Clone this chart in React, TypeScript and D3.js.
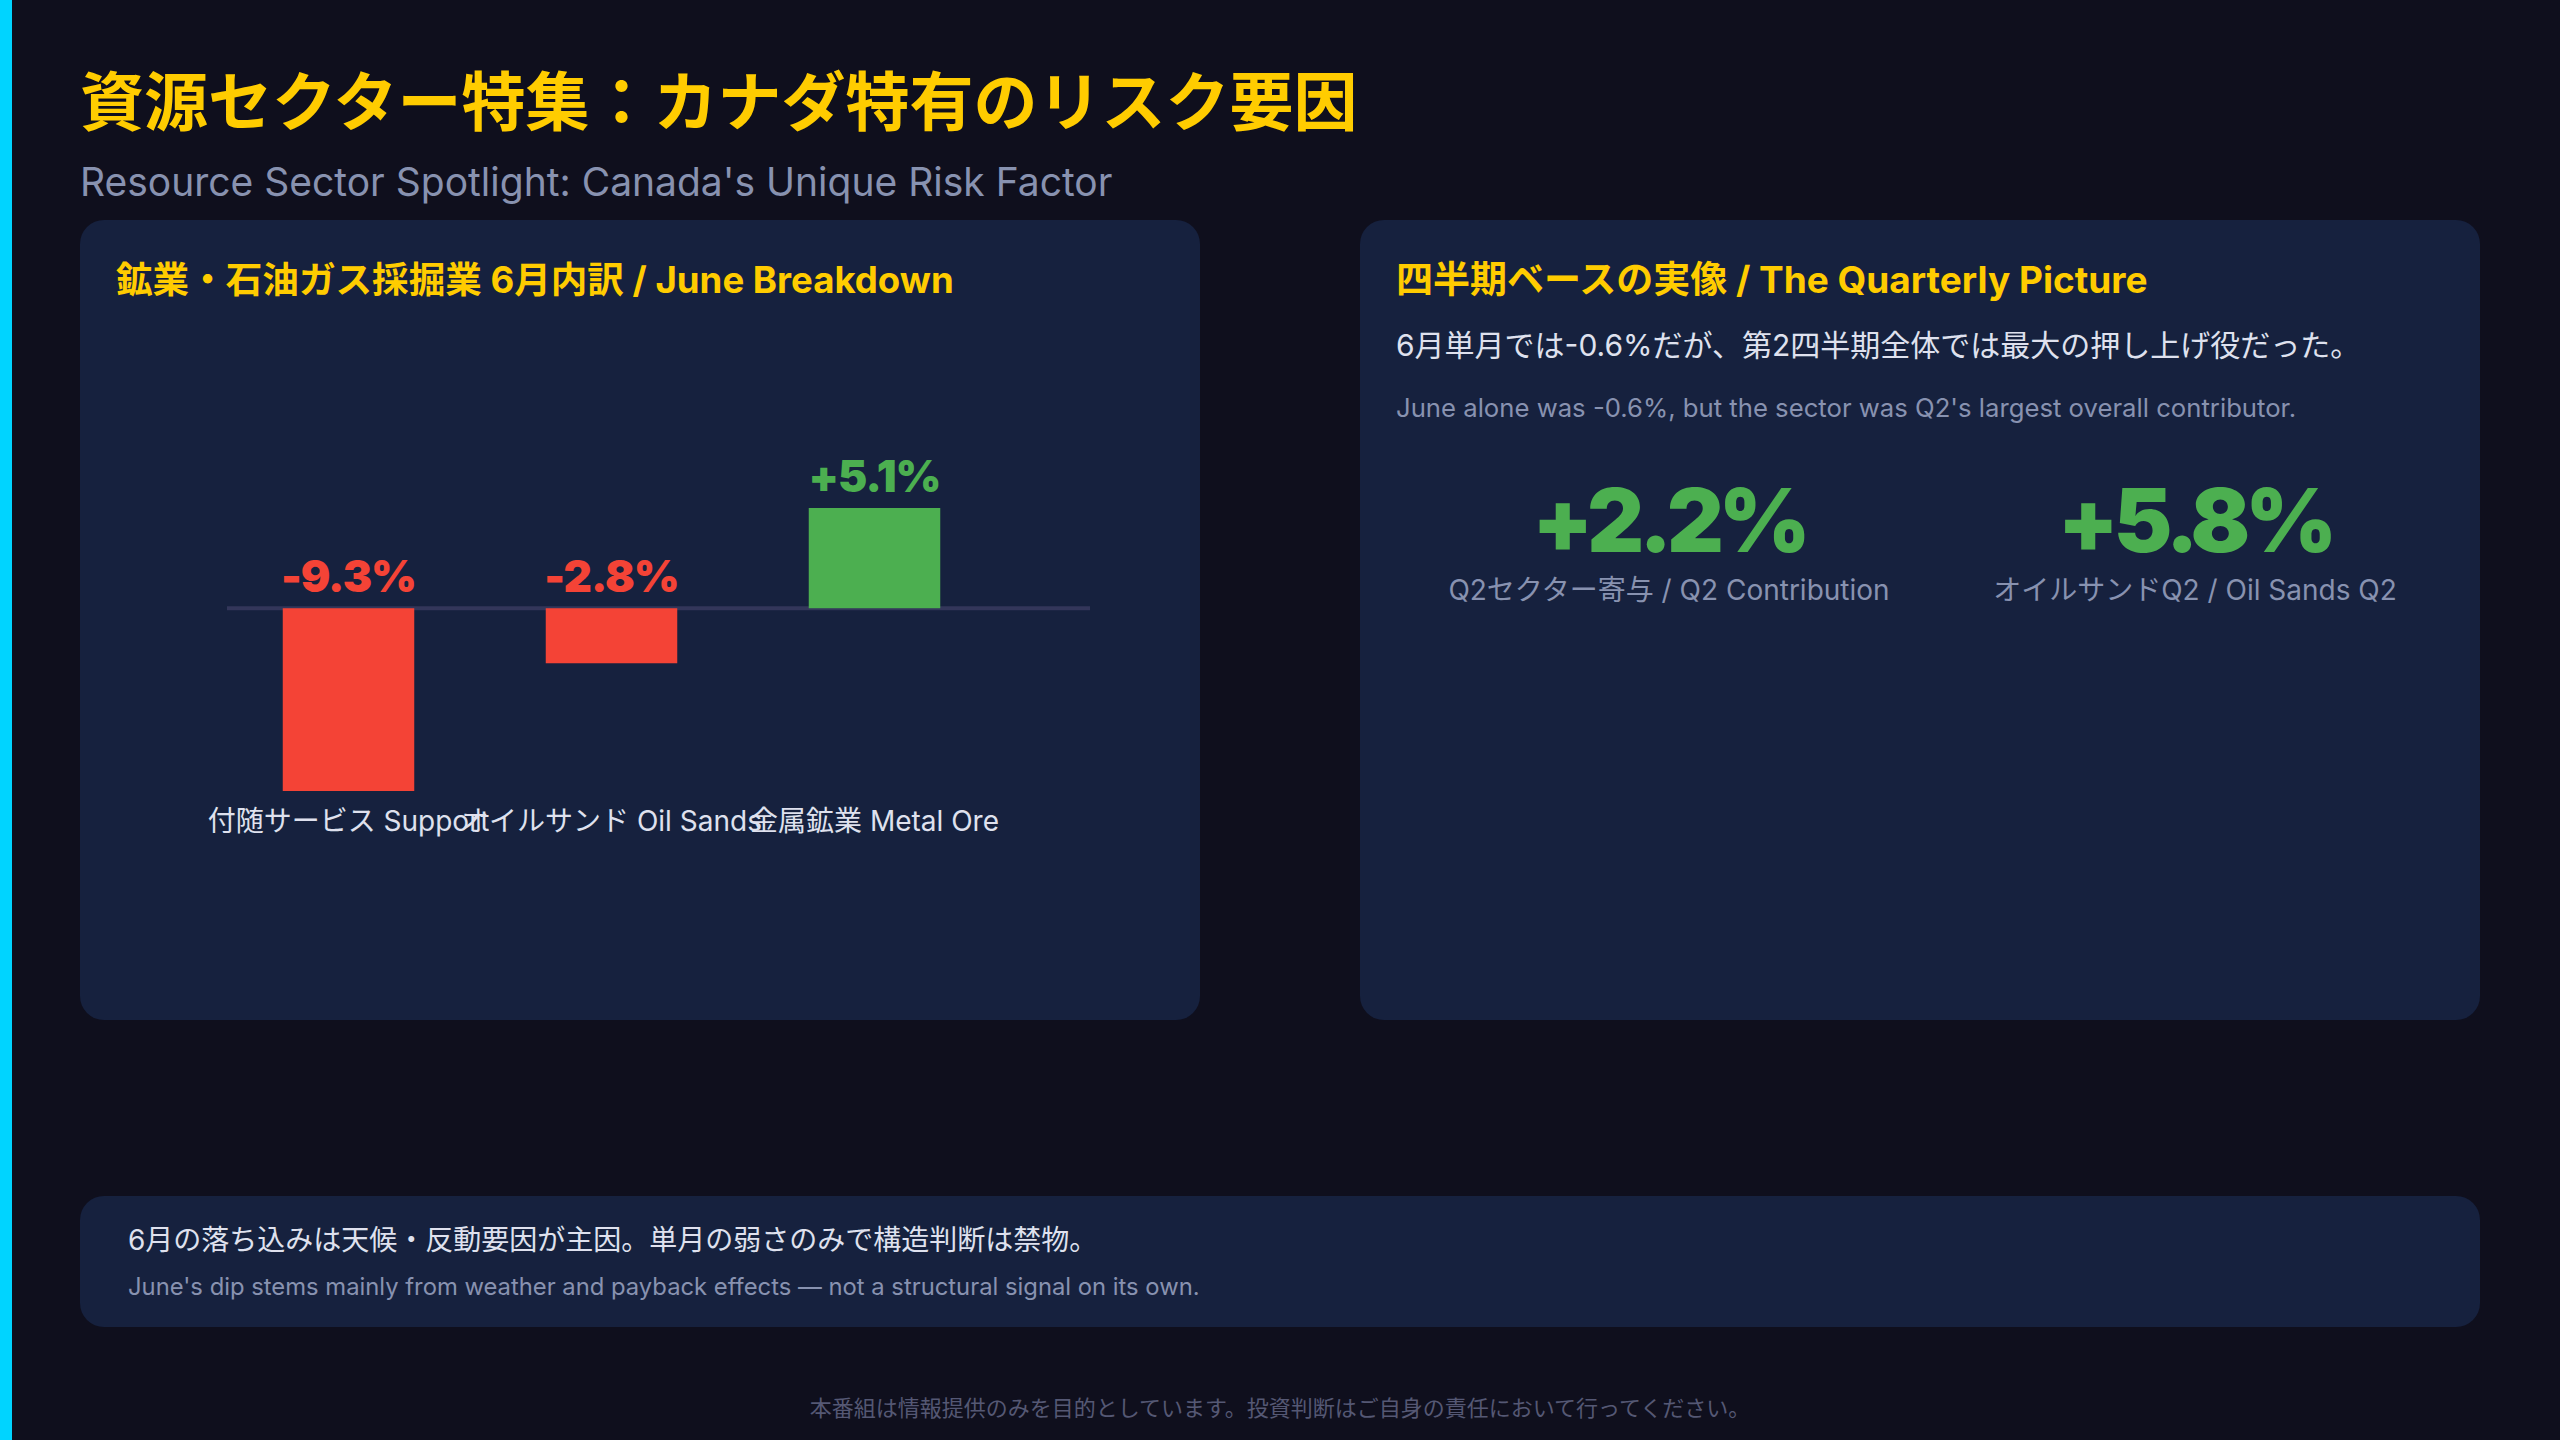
import * as d3 from 'd3';

// June breakdown (m/m %, mining & oil/gas extraction)
const categories = ['付随サービス Support', 'オイルサンド Oil Sands', '金属鉱業 Metal Ore'];
const juneChange = [-9.3, -2.8, 5.1];

// Quarterly picture
const quarterlyValues = [2.2, 5.8];
const quarterlyLabels = ['Q2セクター寄与 / Q2 Contribution', 'オイルサンドQ2 / Oil Sands Q2'];

const W = 2560;
const H = 1440;

const FONT = "Inter, 'Noto Sans CJK JP', sans-serif";
const NUM_FONT = "Inter, 'Noto Sans CJK JP', sans-serif";

const COLORS = {
  bg: '#0f0f1d',
  accent: '#00d4ff',
  panel: '#16213e',
  yellow: '#ffcc00',
  red: '#f44336',
  green: '#4caf50',
  zero: '#33365a',
  text: '#dfe1ee',
  muted: '#8892b0',
  footer: '#555874',
};

const pct = (v: number) => `${v > 0 ? '+' : ''}${v.toFixed(1)}%`;

export default function App() {
  // left panel chart layout
  const plot = { left: 227, right: 1090, top: 508, bottom: 791 };

  const x = d3
    .scaleBand<string>()
    .domain(categories)
    .range([217, 1006])
    .paddingInner(0.5)
    .paddingOuter(0.25);

  const y = d3
    .scaleLinear()
    .domain([d3.min(juneChange) ?? 0, d3.max(juneChange) ?? 0])
    .range([plot.bottom, plot.top]);

  // right panel metric columns
  const cols = d3
    .scaleBand<string>()
    .domain(quarterlyLabels)
    .range([1406, 2458]);

  return (
    <div style={{ position: 'fixed', inset: 0, background: COLORS.bg }}>
      <svg width={W} height={H} style={{ display: 'block' }}>
        <rect x={0} y={0} width={W} height={H} fill={COLORS.bg} />
        <rect x={0} y={0} width={12} height={H} fill={COLORS.accent} />

        {/* header */}
        <text x={80} y={125} fill={COLORS.yellow} fontFamily={FONT} fontWeight={700} fontSize={64}>
          資源セクター特集：カナダ特有のリスク要因
        </text>
        <text x={80} y={196} fill={COLORS.muted} fontFamily={FONT} fontSize={39}>
          Resource Sector Spotlight: Canada's Unique Risk Factor
        </text>

        {/* left panel */}
        <rect x={80} y={220} width={1120} height={800} rx={24} fill={COLORS.panel} />
        <text x={116} y={293} fill={COLORS.yellow} fontFamily={FONT} fontWeight={700} fontSize={36.6}>
          鉱業・石油ガス採掘業 6月内訳 / June Breakdown
        </text>

        <line
          x1={plot.left}
          x2={plot.right}
          y1={y(0)}
          y2={y(0)}
          stroke={COLORS.zero}
          strokeWidth={4}
        />
        {categories.map((c, i) => {
          const v = juneChange[i];
          const color = v >= 0 ? COLORS.green : COLORS.red;
          const x0 = x(c) ?? 0;
          const cx = x0 + x.bandwidth() / 2;
          return (
            <g key={c}>
              <rect
                x={x0}
                y={Math.min(y(v), y(0))}
                width={x.bandwidth()}
                height={Math.abs(y(v) - y(0))}
                fill={color}
              />
              <text
                x={cx}
                y={y(Math.max(v, 0)) - 16}
                textAnchor="middle"
                fill={color}
                fontFamily={NUM_FONT}
                fontWeight={900}
                fontSize={44}
                letterSpacing={-1}
              >
                {pct(v)}
              </text>
              <text
                x={cx}
                y={plot.bottom + 40}
                textAnchor="middle"
                fill={COLORS.text}
                fontFamily={FONT}
                fontSize={28}
              >
                {c}
              </text>
            </g>
          );
        })}

        {/* right panel */}
        <rect x={1360} y={220} width={1120} height={800} rx={24} fill={COLORS.panel} />
        <text x={1396} y={293} fill={COLORS.yellow} fontFamily={FONT} fontWeight={700} fontSize={37}>
          四半期ベースの実像 / The Quarterly Picture
        </text>
        <text x={1396} y={356} fill={COLORS.text} fontFamily={FONT} fontSize={30}>
          6月単月では-0.6%だが、第2四半期全体では最大の押し上げ役だった。
        </text>
        <text x={1396} y={417} fill={COLORS.muted} fontFamily={FONT} fontSize={25.7}>
          June alone was -0.6%, but the sector was Q2's largest overall contributor.
        </text>
        {quarterlyLabels.map((label, i) => {
          const cx = (cols(label) ?? 0) + cols.bandwidth() / 2;
          return (
            <g key={label}>
              <text
                x={cx}
                y={552}
                textAnchor="middle"
                fill={COLORS.green}
                fontFamily={NUM_FONT}
                fontWeight={900}
                fontSize={88}
                letterSpacing={-5}
              >
                {pct(quarterlyValues[i])}
              </text>
              <text
                x={cx}
                y={600}
                textAnchor="middle"
                fill={COLORS.muted}
                fontFamily={FONT}
                fontSize={28}
              >
                {label}
              </text>
            </g>
          );
        })}

        {/* bottom note */}
        <rect x={80} y={1196} width={2400} height={131} rx={24} fill={COLORS.panel} />
        <text x={128} y={1250} fill={COLORS.text} fontFamily={FONT} fontSize={28}>
          6月の落ち込みは天候・反動要因が主因。単月の弱さのみで構造判断は禁物。
        </text>
        <text x={128} y={1295} fill={COLORS.muted} fontFamily={FONT} fontSize={23.8}>
          June's dip stems mainly from weather and payback effects — not a structural signal on its own.
        </text>

        {/* footer */}
        <text
          x={W / 2}
          y={1416}
          textAnchor="middle"
          fill={COLORS.footer}
          fontFamily={FONT}
          fontSize={22}
        >
          本番組は情報提供のみを目的としています。投資判断はご自身の責任において行ってください。
        </text>
      </svg>
    </div>
  );
}
